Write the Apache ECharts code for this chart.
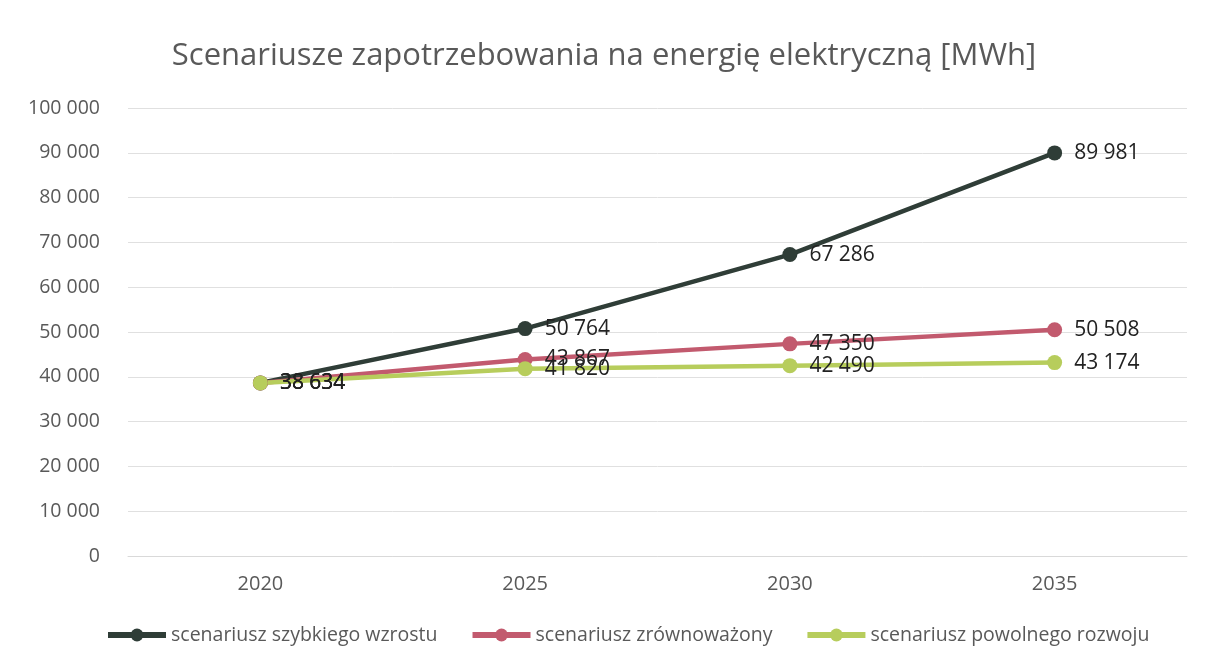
<html>
<head>
    <meta charset="utf-8">
    <script type="text/javascript" src="https://cdn.jsdelivr.net/npm/echarts@6/dist/echarts.min.js"></script>
</head>
<body style="margin:0; background:#fff">
<div id="main" style="width:1208px; height:664px"></div>
<script>
    var years = ['2020', '2025', '2030', '2035'];
    var szybki = [38634, 50764, 67286, 89981];
    var zrownowazony = [38634, 43867, 47350, 50508];
    var powolny = [38634, 41820, 42490, 43174];
    var names = ['scenariusz szybkiego wzrostu', 'scenariusz zrównoważony', 'scenariusz powolnego rozwoju'];
    var colors = ['#2f3d37', '#c25a6e', '#b7cd5c'];

    function fmt(v) {
        return String(v).replace(/\B(?=(\d{3})+(?!\d))/g, ' ');
    }

    function makeSeries(name, data, color) {
        return {
            name: name,
            type: 'line',
            data: data,
            symbol: 'circle',
            symbolSize: 15,
            lineStyle: { width: 4.5, color: color },
            itemStyle: { color: color },
            label: {
                show: true,
                position: 'right',
                distance: 12,
                fontSize: 21,
                color: '#222',
                fontFamily: 'Open Sans',
                formatter: function (p) { return fmt(p.value); }
            }
        };
    }

    var myChart = echarts.init(document.getElementById('main'));
    var option = {
        animation: false,
        color: colors,
        title: {
            text: 'Scenariusze zapotrzebowania na energię elektryczną [MWh]',
            left: 'center',
            top: 36,
            textStyle: { fontSize: 31, fontWeight: 'normal', color: '#595959', fontFamily: 'Open Sans' }
        },
        legend: {
            data: names,
            bottom: 14,
            left: 100,
            itemWidth: 58,
            itemHeight: 16,
            itemGap: 32,
            lineStyle: { width: 6 },
            textStyle: { fontSize: 19.5, color: '#595959', fontFamily: 'Open Sans' }
        },
        grid: { left: 128, right: 21, top: 108, bottom: 108 },
        xAxis: [{
            type: 'category',
            data: years,
            axisLine: { lineStyle: { color: '#d9d9d9' } },
            axisTick: { show: false },
            axisLabel: { fontSize: 20, color: '#595959', margin: 18, fontFamily: 'Open Sans' }
        }],
        yAxis: [{
            type: 'value',
            min: 0,
            max: 100000,
            interval: 10000,
            axisLine: { show: false },
            axisTick: { show: false },
            splitLine: { lineStyle: { color: '#e0e0e0' } },
            axisLabel: { fontSize: 19.5, color: '#595959', margin: 28, fontFamily: 'Open Sans', formatter: fmt }
        }],
        series: [
            makeSeries(names[0], szybki, colors[0]),
            makeSeries(names[1], zrownowazony, colors[1]),
            makeSeries(names[2], powolny, colors[2])
        ]
    };
    myChart.setOption(option);
</script>
</body>
</html>
